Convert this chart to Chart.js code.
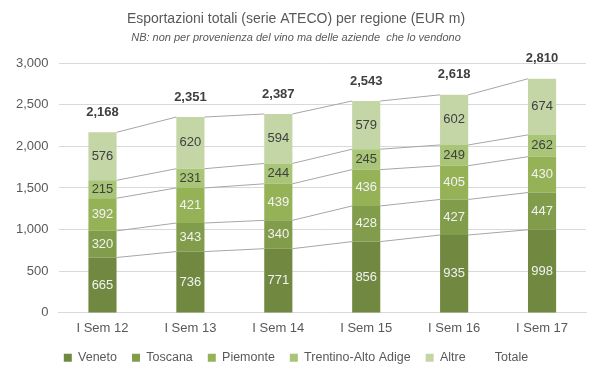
<!DOCTYPE html>
<html><head><meta charset="utf-8">
<script src="https://cdn.jsdelivr.net/npm/chart.js@4/dist/chart.umd.min.js"></script>
<style>html,body{margin:0;padding:0;background:#fff}#wrap{width:600px;height:378px}</style>
</head><body><div id="wrap"><canvas id="c" width="600" height="378"></canvas></div>
<script>
const categories = ["I Sem 12","I Sem 13","I Sem 14","I Sem 15","I Sem 16","I Sem 17"];
const veneto = [665,736,771,856,935,998];
const toscana = [320,343,340,428,427,447];
const piemonte = [392,421,439,436,405,430];
const trentino = [215,231,244,245,249,262];
const altre = [576,620,594,579,602,674];
const totale = [2168,2351,2387,2543,2618,2810];
const yTicks = [0,500,1000,1500,2000,2500,3000];

const FONT = "'Liberation Sans', Arial, sans-serif";
const colors = ["#70883f","#819c4a","#95b257","#a9c577","#c4d5a6"];
const labelColors = ["#f2f2f2","#f2f2f2","#f2f2f2","#404040","#404040"];
const series = [["Veneto",veneto],["Toscana",toscana],["Piemonte",piemonte],["Trentino-Alto Adige",trentino],["Altre",altre]];
const fmt = v => v.toLocaleString('en-US');

const datasets = series.map((s,i)=>({type:'bar',label:s[0],data:s[1],backgroundColor:colors[i],stack:'s',
  categoryPercentage:1,barPercentage:0.32,order:1}));
datasets.push({type:'line',label:'Totale',data:totale,showLine:false,pointRadius:0,borderColor:'rgba(0,0,0,0)',backgroundColor:'rgba(0,0,0,0)',order:0});

const plug = {
  id:'extras',
  afterDatasetsDraw(chart){
    const ctx = chart.ctx;
    ctx.save();
    ctx.strokeStyle = '#a6a6a6'; ctx.lineWidth = 1;
    for(let d=0; d<5; d++){
      const els = chart.getDatasetMeta(d).data;
      for(let i=0;i<els.length-1;i++){
        const a=els[i], b=els[i+1];
        ctx.beginPath();
        ctx.moveTo(a.x + a.width/2, a.y);
        ctx.lineTo(b.x - b.width/2, b.y);
        ctx.stroke();
      }
    }
    ctx.textAlign='center'; ctx.textBaseline='middle';
    ctx.font = "13px " + FONT;
    for(let d=0; d<5; d++){
      const els = chart.getDatasetMeta(d).data;
      ctx.fillStyle = labelColors[d];
      els.forEach((el,i)=>{
        ctx.fillText(fmt(series[d][1][i]), el.x, (el.y+el.base)/2);
      });
    }
    ctx.font = "bold 13px " + FONT;
    ctx.fillStyle = '#404040';
    const top = chart.getDatasetMeta(4).data;
    top.forEach((el,i)=>{
      ctx.fillText(fmt(totale[i]), el.x, el.y - 20);
    });
    ctx.restore();
  }
};

new Chart(document.getElementById('c'),{
  data:{labels:categories,datasets},
  plugins:[plug],
  options:{
    responsive:false, animation:false,
    layout:{padding:{left:6,right:14,top:0,bottom:4}},
    plugins:{
      title:{display:true,text:'Esportazioni totali (serie ATECO) per regione (EUR m)',color:'#595959',
        font:{family:FONT,size:14,weight:'normal'},padding:{top:11,bottom:4}},
      subtitle:{display:true,text:'NB: non per provenienza del vino ma delle aziende  che lo vendono',color:'#595959',
        font:{family:FONT,size:11,style:'italic'},padding:{bottom:18}},
      legend:{position:'bottom',labels:{color:'#595959',font:{family:FONT,size:12.5},boxWidth:8,boxHeight:8,padding:15,
        generateLabels(chart){
          return chart.data.datasets.map((ds,i)=>({text:ds.label,fillStyle:i<5?colors[i]:'rgba(0,0,0,0)',
            strokeStyle:'rgba(0,0,0,0)',lineWidth:0,datasetIndex:i,fontColor:'#595959'}));
        }}},
      tooltip:{enabled:false}
    },
    scales:{
      x:{stacked:true,grid:{display:false},border:{color:'#d9d9d9'},
        ticks:{color:'#595959',font:{family:FONT,size:13},padding:0}},
      y:{stacked:true,min:0,max:3000,afterBuildTicks(ax){ax.ticks=yTicks.map(v=>({value:v}));},
        grid:{color:'#d9d9d9',drawTicks:false},border:{display:false},
        ticks:{color:'#595959',font:{family:FONT,size:13},padding:10,callback:v=>fmt(v)}}
    }
  }
});
</script></body></html>
